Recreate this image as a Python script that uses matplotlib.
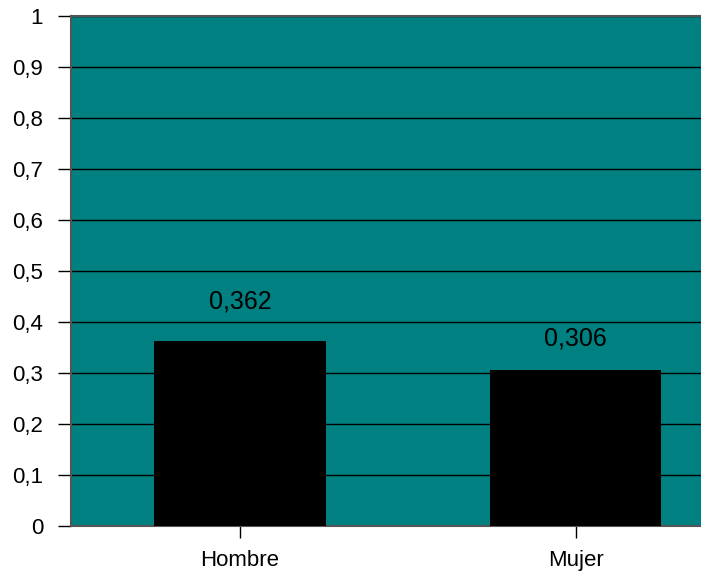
import matplotlib.pyplot as plt
from matplotlib.ticker import FuncFormatter

plt.rcParams['font.family'] = ['Liberation Sans', 'DejaVu Sans']

# data
categorias = ["Hombre", "Mujer"]
valores = [0.362, 0.306]
etiquetas = ["0,362", "0,306"]

PX = 0.72  # points per pixel at dpi 100

fig = plt.figure(figsize=(7.01, 5.71), dpi=100)
# plot area runs past the right edge of the picture, like the original
ax = fig.add_axes([71 / 701, 45 / 571, 630 / 701, 510 / 571])
ax.set_facecolor("#008080")

x = list(range(len(categorias)))
ax.bar(x, valores, width=0.51, color="black", zorder=3)

ax.set_xlim(-0.503, 1.373)
ax.set_ylim(0, 1)
ax.set_yticks([i / 10 for i in range(11)])
ax.yaxis.set_major_formatter(FuncFormatter(lambda v, p: ("%g" % round(v, 1)).replace(".", ",")))
ax.set_xticks(x)
ax.set_xticklabels(categorias)

ax.grid(axis="y", color="black", linewidth=1, zorder=1)
ax.set_axisbelow(True)

for s in ["left", "top", "bottom"]:
    ax.spines[s].set_color("#555555")
    ax.spines[s].set_linewidth(1.5)
ax.spines["right"].set_visible(False)

ax.tick_params(axis="y", length=13 * PX, width=1, color="black", labelsize=16, pad=15 * PX)
ax.tick_params(axis="x", length=12 * PX, width=1, color="black", labelsize=16, pad=12 * PX)

# value labels above the bars
offsets = [28, 19]
for xi, v, lab, off in zip(x, valores, etiquetas, offsets):
    ax.annotate(lab, (xi, v), xytext=(0, off * PX), textcoords="offset points",
                ha="center", va="bottom", fontsize=18)

fig.savefig("out.png", dpi=100)
